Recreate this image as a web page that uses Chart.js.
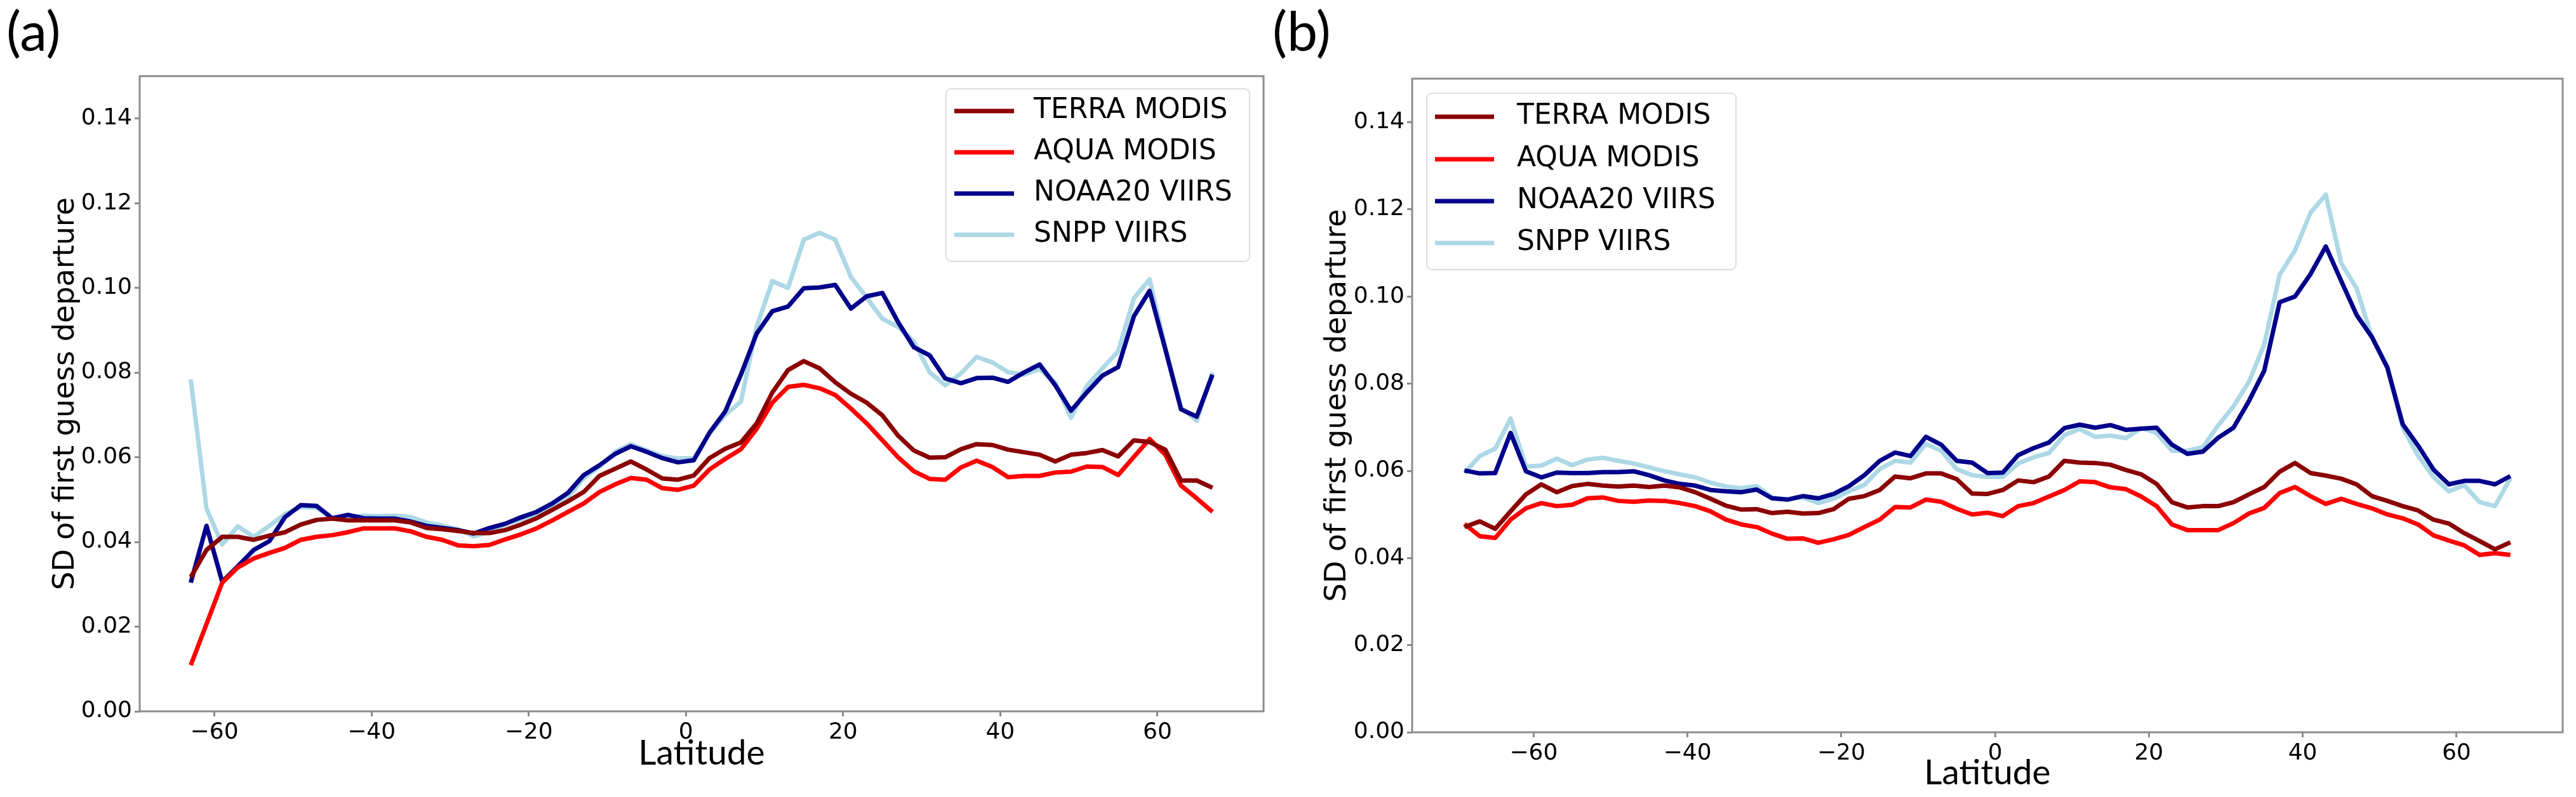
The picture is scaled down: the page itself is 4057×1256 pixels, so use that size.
<!DOCTYPE html>
<html>
<head>
<meta charset="utf-8">
<script src="https://cdn.jsdelivr.net/npm/chart.js@4.4.1/dist/chart.umd.min.js"></script>
<style>
  html, body { margin: 0; padding: 0; background: #fff; }
  body { width: 4057px; height: 1256px; position: relative; overflow: hidden; }
  .panel { position: absolute; top: 0; height: 1256px; }
  .tag { position: absolute; top: 4px; font-family: Lato, sans-serif; font-size: 86px; line-height: 1; color: #000; }
</style>
</head>
<body>
<div class="panel" style="left:0;width:2030px"><canvas id="chartA"></canvas></div>
<div class="panel" style="left:2030px;width:2027px"><canvas id="chartB"></canvas></div>
<div class="tag" style="left:10px">(a)</div>
<div class="tag" style="left:2004px">(b)</div>
<script>
// series names and colours
const seriesNames = ['TERRA MODIS', 'AQUA MODIS', 'NOAA20 VIIRS', 'SNPP VIIRS'];
const seriesColors = ['#8b0000', '#ff0000', '#00008b', '#add8e6'];

// tick labels
const xTicks = [-60, -40, -20, 0, 20, 40, 60];
const yTicks = [0, 0.02, 0.04, 0.06, 0.08, 0.10, 0.12, 0.14];

// panel (a)
const latA = [-63, -61, -59, -57, -55, -53, -51, -49, -47, -45, -43, -41, -39, -37, -35, -33, -31, -29,
  -27, -25, -23, -21, -19, -17, -15, -13, -11, -9, -7, -5, -3, -1, 1, 3, 5,
  7, 9, 11, 13, 15, 17, 19, 21, 23, 25, 27, 29, 31, 33, 35, 37, 39,
  41, 43, 45, 47, 49, 51, 53, 55, 57, 59, 61, 63, 65, 67];
const terraA = [0.0317, 0.0381, 0.0412, 0.0412, 0.0405, 0.0415, 0.0423, 0.0441, 0.0452, 0.0455, 0.0451, 0.0451, 0.0451, 0.0451, 0.0446, 0.0433, 0.0430, 0.0426,
  0.0421, 0.0421, 0.0428, 0.0441, 0.0456, 0.0476, 0.0496, 0.0518, 0.0556, 0.0573, 0.0590, 0.0571, 0.0550, 0.0547, 0.0557, 0.0598, 0.0620,
  0.0635, 0.0680, 0.0753, 0.0806, 0.0827, 0.0810, 0.0777, 0.0750, 0.0729, 0.0699, 0.0651, 0.0616, 0.0599, 0.0600, 0.0619, 0.0631, 0.0629,
  0.0618, 0.0612, 0.0606, 0.0590, 0.0606, 0.0610, 0.0617, 0.0602, 0.0640, 0.0636, 0.0618, 0.0545, 0.0545, 0.0528];
const aquaA = [0.0109, 0.0206, 0.0304, 0.0340, 0.0361, 0.0374, 0.0386, 0.0405, 0.0412, 0.0416, 0.0423, 0.0432, 0.0432, 0.0432, 0.0425, 0.0412, 0.0405, 0.0392,
  0.0390, 0.0393, 0.0406, 0.0418, 0.0432, 0.0451, 0.0471, 0.0491, 0.0518, 0.0536, 0.0551, 0.0547, 0.0527, 0.0523, 0.0533, 0.0571, 0.0596,
  0.0619, 0.0667, 0.0729, 0.0766, 0.0771, 0.0763, 0.0747, 0.0715, 0.0680, 0.0640, 0.0600, 0.0567, 0.0549, 0.0547, 0.0576, 0.0592, 0.0577,
  0.0553, 0.0556, 0.0556, 0.0564, 0.0566, 0.0578, 0.0577, 0.0558, 0.0601, 0.0643, 0.0606, 0.0533, 0.0503, 0.0471];
const noaaA = [0.0304, 0.0438, 0.0306, 0.0343, 0.0381, 0.0402, 0.0459, 0.0487, 0.0485, 0.0456, 0.0464, 0.0456, 0.0455, 0.0455, 0.0448, 0.0438, 0.0433, 0.0428,
  0.0420, 0.0433, 0.0443, 0.0458, 0.0471, 0.0491, 0.0516, 0.0558, 0.0581, 0.0608, 0.0626, 0.0613, 0.0598, 0.0588, 0.0593, 0.0658, 0.0708,
  0.0795, 0.0892, 0.0945, 0.0956, 0.0999, 0.1001, 0.1007, 0.0951, 0.0980, 0.0988, 0.0919, 0.0860, 0.0841, 0.0786, 0.0775, 0.0787, 0.0788,
  0.0778, 0.0800, 0.0819, 0.0770, 0.0710, 0.0753, 0.0793, 0.0813, 0.0933, 0.0993, 0.0855, 0.0713, 0.0696, 0.0795];
const snppA = [0.0784, 0.0479, 0.0394, 0.0437, 0.0412, 0.0438, 0.0466, 0.0482, 0.0481, 0.0456, 0.0460, 0.0462, 0.0461, 0.0462, 0.0459, 0.0446, 0.0439, 0.0430,
  0.0413, 0.0423, 0.0441, 0.0453, 0.0463, 0.0483, 0.0506, 0.0551, 0.0578, 0.0613, 0.0631, 0.0616, 0.0603, 0.0597, 0.0598, 0.0656, 0.0700,
  0.0731, 0.0908, 0.1016, 0.1000, 0.1114, 0.1130, 0.1114, 0.1026, 0.0977, 0.0927, 0.0908, 0.0873, 0.0801, 0.0770, 0.0798, 0.0837, 0.0824,
  0.0801, 0.0795, 0.0808, 0.0776, 0.0693, 0.0768, 0.0810, 0.0850, 0.0975, 0.1020, 0.0860, 0.0718, 0.0686, 0.0800];

// panel (b)
const latB = [-69, -67, -65, -63, -61, -59, -57, -55, -53, -51, -49, -47, -45, -43, -41, -39, -37, -35,
  -33, -31, -29, -27, -25, -23, -21, -19, -17, -15, -13, -11, -9, -7, -5, -3, -1,
  1, 3, 5, 7, 9, 11, 13, 15, 17, 19, 21, 23, 25, 27, 29, 31, 33, 35,
  37, 39, 41, 43, 45, 47, 49, 51, 53, 55, 57, 59, 61, 63, 65, 67];
const terraB = [0.0471, 0.0484, 0.0467, 0.0507, 0.0546, 0.0569, 0.0551, 0.0565, 0.0570, 0.0566, 0.0564, 0.0566, 0.0563, 0.0566, 0.0562, 0.0551, 0.0536, 0.0520,
  0.0511, 0.0512, 0.0503, 0.0506, 0.0502, 0.0503, 0.0512, 0.0536, 0.0542, 0.0556, 0.0587, 0.0583, 0.0594, 0.0594, 0.0581, 0.0548, 0.0547,
  0.0556, 0.0578, 0.0574, 0.0587, 0.0623, 0.0619, 0.0618, 0.0614, 0.0602, 0.0592, 0.0570, 0.0528, 0.0516, 0.0519, 0.0519, 0.0528, 0.0546, 0.0563,
  0.0598, 0.0618, 0.0595, 0.0589, 0.0582, 0.0569, 0.0542, 0.0531, 0.0519, 0.0509, 0.0488, 0.0479, 0.0457, 0.0439, 0.0420, 0.0436];
const aquaB = [0.0478, 0.0450, 0.0446, 0.0488, 0.0514, 0.0526, 0.0519, 0.0522, 0.0537, 0.0539, 0.0531, 0.0529, 0.0532, 0.0531, 0.0526, 0.0519, 0.0507, 0.0488,
  0.0477, 0.0471, 0.0456, 0.0444, 0.0445, 0.0435, 0.0443, 0.0453, 0.0471, 0.0488, 0.0517, 0.0516, 0.0534, 0.0529, 0.0513, 0.0500, 0.0504,
  0.0496, 0.0519, 0.0526, 0.0541, 0.0556, 0.0576, 0.0574, 0.0562, 0.0558, 0.0541, 0.0519, 0.0477, 0.0464, 0.0464, 0.0464, 0.0480, 0.0502, 0.0515,
  0.0549, 0.0563, 0.0542, 0.0524, 0.0536, 0.0524, 0.0514, 0.0500, 0.0491, 0.0477, 0.0452, 0.0440, 0.0429, 0.0407, 0.0411, 0.0407];
const noaaB = [0.0601, 0.0594, 0.0595, 0.0687, 0.0599, 0.0585, 0.0596, 0.0595, 0.0595, 0.0597, 0.0597, 0.0599, 0.0590, 0.0578, 0.0570, 0.0566, 0.0556, 0.0553,
  0.0551, 0.0557, 0.0537, 0.0534, 0.0542, 0.0537, 0.0547, 0.0565, 0.0590, 0.0623, 0.0642, 0.0634, 0.0678, 0.0660, 0.0623, 0.0619, 0.0595,
  0.0596, 0.0636, 0.0652, 0.0665, 0.0698, 0.0706, 0.0699, 0.0705, 0.0694, 0.0697, 0.0699, 0.0660, 0.0639, 0.0644, 0.0676, 0.0699, 0.0760, 0.0830,
  0.0987, 0.1000, 0.1051, 0.1115, 0.1036, 0.0958, 0.0907, 0.0837, 0.0707, 0.0658, 0.0603, 0.0569, 0.0577, 0.0577, 0.0569, 0.0588];
const snppB = [0.0595, 0.0634, 0.0651, 0.0720, 0.0610, 0.0612, 0.0628, 0.0613, 0.0626, 0.0630, 0.0623, 0.0617, 0.0608, 0.0599, 0.0592, 0.0585, 0.0573, 0.0564,
  0.0560, 0.0565, 0.0539, 0.0534, 0.0539, 0.0526, 0.0536, 0.0553, 0.0568, 0.0604, 0.0623, 0.0619, 0.0662, 0.0646, 0.0604, 0.0590, 0.0586,
  0.0586, 0.0617, 0.0631, 0.0641, 0.0682, 0.0696, 0.0678, 0.0681, 0.0675, 0.0698, 0.0687, 0.0646, 0.0646, 0.0654, 0.0704, 0.0748, 0.0804, 0.0890,
  0.1050, 0.1106, 0.1192, 0.1234, 0.1077, 0.1019, 0.0906, 0.0840, 0.0699, 0.0635, 0.0586, 0.0553, 0.0567, 0.0528, 0.0519, 0.0583];

const tickFont = { family: 'DejaVu Sans', size: 36 };
const spineColor = '#8c8c8c';

// grey box round the plot area
const frame = {
  id: 'frame',
  afterDatasetsDraw(chart) {
    const { ctx, chartArea: a } = chart;
    ctx.save();
    ctx.strokeStyle = spineColor;
    ctx.lineWidth = 3;
    ctx.strokeRect(a.left, a.top, a.right - a.left, a.bottom - a.top);
    ctx.restore();
  }
};

// matplotlib style legend box
const boxLegend = {
  id: 'boxLegend',
  afterDraw(chart, args, o) {
    const ctx = chart.ctx;
    ctx.save();
    ctx.beginPath();
    ctx.roundRect(o.x, o.y, o.w, o.h, 8);
    ctx.fillStyle = 'rgba(255,255,255,0.85)';
    ctx.fill();
    ctx.strokeStyle = '#dddddd';
    ctx.lineWidth = 2;
    ctx.stroke();
    chart.data.datasets.forEach((ds, i) => {
      const y = o.rows[i];
      ctx.strokeStyle = ds.borderColor;
      ctx.lineWidth = ds.borderWidth;
      ctx.beginPath();
      ctx.moveTo(o.lineX0, y);
      ctx.lineTo(o.lineX1, y);
      ctx.stroke();
      ctx.fillStyle = '#000';
      ctx.font = '44px "DejaVu Sans"';
      ctx.textBaseline = 'middle';
      ctx.fillText(ds.label, o.textX, y);
    });
    ctx.restore();
  }
};

function makePanel(id, lats, values, p) {
  const datasets = values.map((vals, i) => ({
    label: seriesNames[i],
    data: lats.map((lat, j) => ({ x: lat, y: vals[j] })),
    borderColor: seriesColors[i],
    borderWidth: 7,
    borderJoinStyle: 'round',
    pointRadius: 0,
    tension: 0,
    fill: false
  }));

  new Chart(document.getElementById(id), {
    type: 'line',
    data: { datasets },
    plugins: [frame, boxLegend],
    options: {
      responsive: true,
      maintainAspectRatio: false,
      devicePixelRatio: 1,
      animation: false,
      events: [],
      layout: { padding: { left: 0, right: p.padRight, top: p.padTop, bottom: 0 } },
      plugins: {
        legend: { display: false },
        tooltip: { enabled: false },
        boxLegend: p.legend
      },
      scales: {
        x: {
          type: 'linear',
          min: p.xMin,
          max: p.xMax,
          afterBuildTicks: s => { s.ticks = xTicks.map(v => ({ value: v })); },
          afterFit: s => { s.height = p.xHeight; },
          grid: { drawOnChartArea: false, drawTicks: true, tickLength: 8, color: spineColor, lineWidth: 3 },
          border: { display: false },
          ticks: {
            font: tickFont, color: '#000', padding: 4, maxRotation: 0,
            callback: v => v < 0 ? '\u2212' + Math.abs(v) : String(v)
          },
          title: {
            display: true, text: 'Latitude', color: '#000',
            font: { family: 'Lato', size: 55 },
            padding: { top: 0, bottom: p.xTitlePad }
          }
        },
        y: {
          type: 'linear',
          min: 0,
          max: 0.15,
          afterBuildTicks: s => { s.ticks = yTicks.map(v => ({ value: v })); },
          afterFit: s => { s.width = p.yWidth; },
          grid: { drawOnChartArea: false, drawTicks: true, tickLength: 8, color: spineColor, lineWidth: 3 },
          border: { display: false },
          ticks: { font: tickFont, color: '#000', padding: 4, callback: v => v.toFixed(2) },
          title: {
            display: true, text: 'SD of first guess departure', color: '#000',
            font: { family: 'DejaVu Sans', size: 46 },
            padding: { top: p.yTitlePad, bottom: 0 }
          }
        }
      }
    }
  });
}

makePanel('chartA', latA, [terraA, aquaA, noaaA, snppA], {
  xMin: -69.5, xMax: 73.5,
  padTop: 120, padRight: 40, yWidth: 220, xHeight: 135,
  yTitlePad: 76, xTitlePad: 36,
  legend: { x: 1490, y: 140, w: 478, h: 272, lineX0: 1503, lineX1: 1597, textX: 1628, rows: [175, 240, 305, 370] }
});

makePanel('chartB', latB, [terraB, aquaB, noaaB, snppB], {
  xMin: -75.8, xMax: 73.8,
  padTop: 124, padRight: 21, yWidth: 194, xHeight: 102,
  yTitlePad: 49, xTitlePad: 5,
  legend: { x: 217, y: 147, w: 487, h: 278, lineX0: 230, lineX1: 323, textX: 359, rows: [184, 251, 317, 383] }
});
</script>
</body>
</html>
